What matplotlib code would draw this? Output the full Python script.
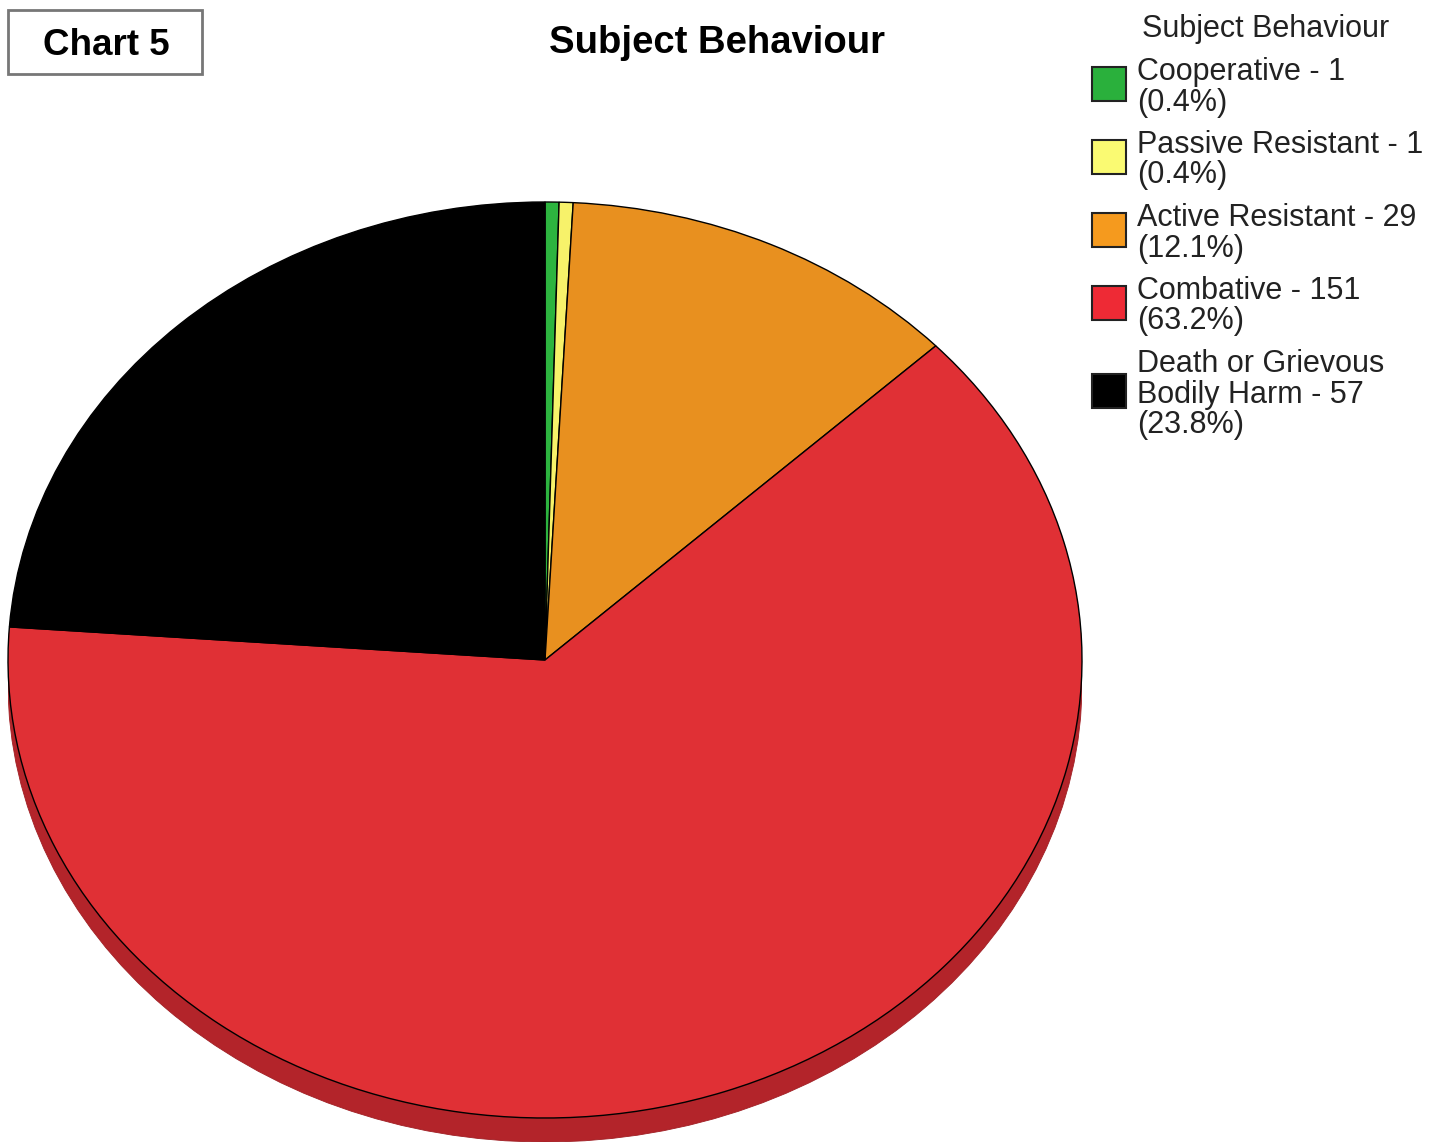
import matplotlib
matplotlib.use('Agg')
from matplotlib import pyplot as plt
from matplotlib.patches import Ellipse, Rectangle

W, H = 1445, 1145

categories = ['Cooperative', 'Passive Resistant', 'Active Resistant', 'Combative',
              'Death or Grievous\nBodily Harm']
counts = [1, 1, 29, 151, 57]
colors = ['#2db43f', '#f7f26a', '#e8901f', '#e03035', '#000000']
legend_colors = ['#2ab03c', '#fafa72', '#f59a1e', '#ee2a35', '#000000']
side_color = '#b3242a'

total = sum(counts)
labels = [f'{c} - {n}\n({n / total * 100:.1f}%)' for c, n in zip(categories, counts)]

plt.rcParams['font.family'] = ['Liberation Sans', 'DejaVu Sans']

fig = plt.figure(figsize=(W / 100, H / 100), dpi=100)

# pie sits in an axes squashed vertically, with a short "depth" below it
cx, cy, rx, ry, depth = 545, 660, 537, 458, 24
d = depth / ry
ax = fig.add_axes([(cx - rx) / W, (H - (cy + ry + depth)) / H,
                   2 * rx / W, (2 * ry + depth) / H])
ax.add_patch(Rectangle((-1, -d), 2, d, facecolor=side_color, edgecolor='none', zorder=0))
ax.add_patch(Ellipse((0, -d), 2, 2, facecolor=side_color, edgecolor='#a01f24',
                     linewidth=0.6, zorder=0))
ax.pie(counts, colors=colors, startangle=90, counterclock=False,
       wedgeprops=dict(edgecolor='black', linewidth=1.0))
for w in ax.patches[2:]:
    w.set_zorder(2)
ax.set_aspect('auto')
ax.set_xlim(-1, 1)
ax.set_ylim(-1 - d, 1)
ax.axis('off')

# overlay in pixel coordinates for title, box and legend
ov = fig.add_axes([0, 0, 1, 1])
ov.set_xlim(0, W)
ov.set_ylim(H, 0)
ov.axis('off')
ov.patch.set_alpha(0)

ov.add_patch(Rectangle((8, 10), 194, 64, facecolor='white', edgecolor='#777777', linewidth=2))
ov.text(106, 55, 'Chart 5', fontsize=26.5, fontweight='bold', ha='center', va='baseline')
ov.text(717, 53, 'Subject Behaviour', fontsize=27.5, fontweight='bold', ha='center', va='baseline')

ov.text(1142, 37, 'Subject Behaviour', fontsize=22, color='#222222', va='baseline')
line_gap = 30.5
base = 80
for lab, col in zip(labels, legend_colors):
    lines = lab.split('\n')
    ov.add_patch(Rectangle((1092, base - 13), 34, 34, facecolor=col,
                           edgecolor='#222222', linewidth=1.5))
    if len(lines) == 3:
        ov.patches[-1].set_y(base + 2)
    for i, ln in enumerate(lines):
        ov.text(1137, base + i * line_gap, ln, fontsize=22, color='#222222', va='baseline')
    base += len(lines) * line_gap + 12

fig.savefig('out.png', dpi=100, facecolor='white')
